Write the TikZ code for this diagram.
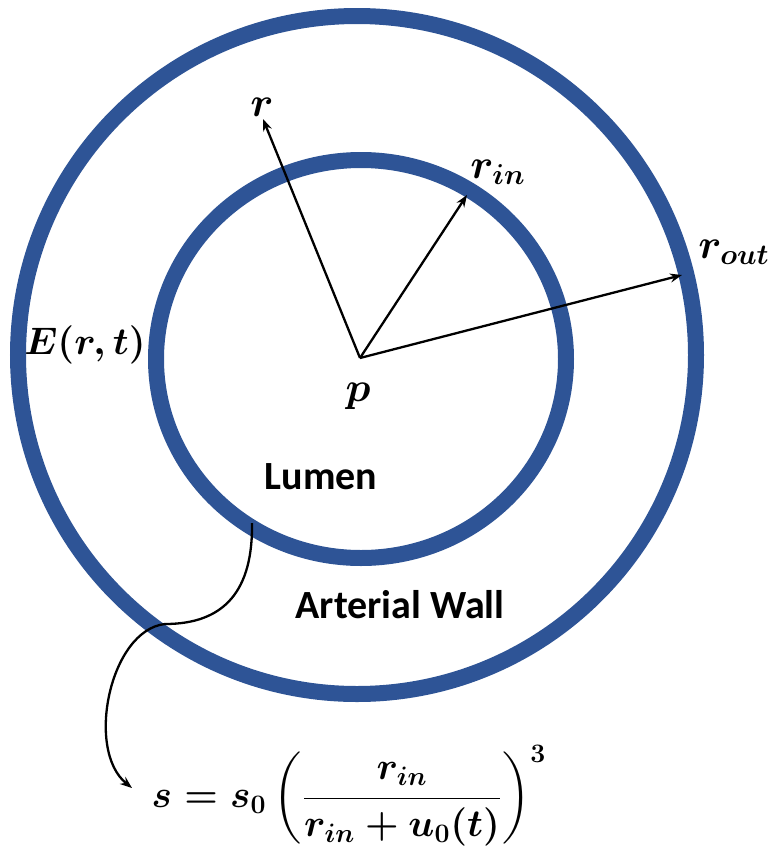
\documentclass[tikz,border=0pt]{standalone}
\usepackage{fontspec}
\usepackage{amsmath}
\usetikzlibrary{arrows.meta}
\newfontfamily\labfont{Carlito}
\definecolor{ringblue}{RGB}{46,84,150}
\newcommand{\bigmath}[2][2.0]{\scalebox{#1}{\fontsize{20.74}{25}\selectfont\boldmath $#2$}}
\begin{document}
\begin{tikzpicture}[x=1pt,y=-1pt,
  ring/.style={draw=ringblue,line width=16pt},
  radial/.style={draw=black,line width=2.3pt,-{Stealth[length=12pt,width=9pt]}},
  conn/.style={draw=black,line width=2.3pt,-{Stealth[length=12pt,width=9pt]}},
  mathlab/.style={inner sep=0pt},
  textlab/.style={inner sep=0pt,font=\labfont\bfseries\fontsize{40}{48}\selectfont}]
\useasboundingbox (0,0) rectangle (776,855);
% rings
\draw[ring] (357,355) circle[radius=339];
\draw[ring] (361,359) ellipse[x radius=205, y radius=199];
% points
\coordinate (p0) at (360,358);
\coordinate (tr) at (263,119);
\coordinate (trin) at (467,195);
\coordinate (trout) at (682,275);
\coordinate (c1) at (252,523);
\coordinate (cm) at (165,624);
\coordinate (tip) at (132,788);
% radii
\draw[radial] (p0) -- (tr);
\draw[radial] (p0) -- (trin);
\draw[radial] (p0) -- (trout);
% labels
\node[mathlab] (lr) at (262,107) {\bigmath{r}};
\node[mathlab] (lrin) at (498,172) {\bigmath{r_{in}}};
\node[mathlab] (lrout) at (734,252) {\bigmath{r_{out}}};
\node[mathlab] (lE) at (85,345) {\bigmath[1.85]{E(r,t)}};
\node[mathlab] (lp) at (358,396) {\bigmath{p}};
\node[textlab] (lumen) at (321,477) {Lumen};
\node[textlab] (wall) at (400,605) {Arterial Wall};
\node[mathlab] (eq) at (349,796) {\bigmath[1.85]{s=s_0\left(\dfrac{r_{in}}{r_{in}+u_0(t)}\right)^{3}}};
% connector
\draw[conn] (c1) .. controls (253,590) and (225,624) .. (cm)
  .. controls (110,630) and (85,750) .. (tip);
\end{tikzpicture}
\end{document}
